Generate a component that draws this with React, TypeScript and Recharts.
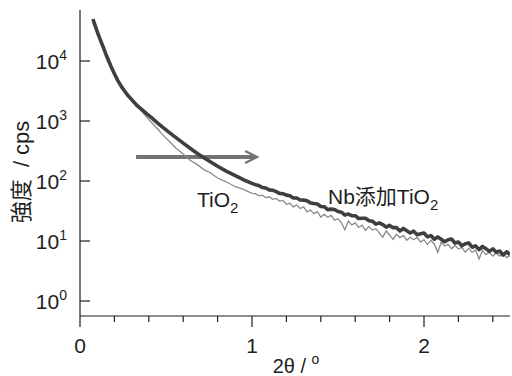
import React from 'react';
import { LineChart, Line, XAxis, YAxis, ReferenceLine, ReferenceDot } from 'recharts';

// 2θ (deg)
const twoTheta = [
  0.075, 0.09, 0.105, 0.12, 0.135, 0.15, 0.165, 0.18, 0.2, 0.22, 0.24, 0.26, 0.28, 0.3,
  0.33, 0.36, 0.39, 0.42, 0.45, 0.48, 0.52, 0.56, 0.6, 0.64, 0.68, 0.72, 0.76, 0.8,
  0.85, 0.9, 0.95, 1.0,
  1.02, 1.04, 1.06, 1.08, 1.1, 1.12, 1.14, 1.16, 1.18, 1.2, 1.22, 1.24, 1.26, 1.28,
  1.3, 1.32, 1.34, 1.36, 1.38, 1.4, 1.42, 1.44, 1.46, 1.48, 1.5, 1.52, 1.54, 1.56,
  1.58, 1.6, 1.62, 1.64, 1.66, 1.68, 1.7, 1.72, 1.74, 1.76, 1.78, 1.8, 1.82, 1.84,
  1.86, 1.88, 1.9, 1.92, 1.94, 1.96, 1.98, 2.0, 2.02, 2.04, 2.06, 2.08, 2.1, 2.12,
  2.14, 2.16, 2.18, 2.2, 2.22, 2.24, 2.26, 2.28, 2.3, 2.32, 2.34, 2.36, 2.38, 2.4,
  2.42, 2.44, 2.46, 2.48, 2.5,
];

// Nb添加TiO2 (cps)
const nbCps = [
  50100, 37600, 28200, 21800, 17000, 13100, 10300, 8170, 6120, 4710, 3780, 3140, 2630, 2280,
  1830, 1550, 1300, 1110, 933, 791, 641, 523, 427, 351, 290, 245, 208, 176,
  146, 124, 105, 91.5,
  86.9, 83.9, 78.0, 76.4, 71.1, 70.3, 66.7, 62.1, 61.4, 58.1, 56.9, 52.2, 52.0, 48.2,
  48.0, 47.0, 43.1, 42.1, 41.4, 37.6, 37.3, 33.3, 34.0, 33.6, 30.9, 30.2, 27.1, 28.1,
  26.4, 26.4, 23.7, 23.9, 23.9, 21.7, 21.4, 19.1, 20.1, 18.8, 17.0, 18.2, 16.7, 16.7,
  14.7, 16.2, 14.8, 13.6, 14.6, 12.7, 13.2, 13.6, 11.7, 12.3, 10.7, 11.7, 10.7, 9.73,
  10.5, 10.8, 9.23, 9.62, 8.34, 9.02, 9.29, 7.87, 8.3, 7.19, 8.13, 7.46, 6.71, 7.4,
  6.49, 6.82, 5.85, 6.61, 5.96,
];

// TiO2 (cps)
const tiCps = [
  42700, 33900, 26900, 21400, 16800, 12950, 10150, 8050, 6050, 4650, 3740, 3100, 2600, 2250,
  1760, 1435, 1140, 916, 741, 593, 454, 349, 283, 222, 189, 155, 136, 112,
  97, 81, 72.5, 62.4,
  61.5, 56.6, 58.2, 53.0, 54.5, 49.4, 51.3, 46.3, 47.5, 40.9, 42.5, 37.1, 39.9, 34.8,
  37.1, 30.5, 32.8, 28.6, 30.8, 25.1, 27.7, 24.8, 26.7, 22.3, 23.5, 20.1, 15.4, 21.5,
  18.5, 20.0, 16.8, 18.3, 15.0, 17.5, 15.2, 16.0, 13.7, 11.5, 14.7, 12.6, 10.6, 12.9,
  11.4, 12.4, 10.3, 11.5, 10.5, 11.5, 9.57, 10.5, 8.73, 10.3, 8.93, 6.47, 9.51, 8.24,
  8.77, 7.43, 8.47, 7.35, 7.83, 6.5, 7.6, 6.44, 7.08, 5.02, 6.95, 5.93, 6.53, 5.61,
  6.27, 5.6, 6.17, 5.27, 5.65,
];

const xTicks = [0, 0.2, 0.4, 0.6, 0.8, 1, 1.2, 1.4, 1.6, 1.8, 2, 2.2, 2.4];
const xLabels = [0, 1, 2];
const yTicks = [1, 10, 100, 1000, 10000];
const yExponents = ['0', '1', '2', '3', '4'];

const rows = twoTheta.map((x, i) => ({ x, nb: nbCps[i], ti: tiCps[i] }));

const FONT = '"Liberation Sans", Arial, "Noto Sans CJK JP", sans-serif';
const INK = '#1e1e1e';

function XTick(props: any) {
  const { x, y, payload } = props;
  const major = xLabels.includes(payload.value);
  return (
    <g>
      <line x1={x} x2={x} y1={y} y2={y + (major ? 11 : 6)} stroke={INK} strokeWidth={1.2} />
      {major && (
        <text x={x} y={y + 37} textAnchor="middle" fontSize={21} fill={INK} fontFamily={FONT}>
          {payload.value}
        </text>
      )}
    </g>
  );
}

function YTick(props: any) {
  const { x, y, payload } = props;
  const exp = yExponents[yTicks.indexOf(payload.value)];
  return (
    <g>
      <line x1={x} x2={x + 10} y1={y} y2={y} stroke={INK} strokeWidth={1.2} />
      <text x={x - 13} y={y + 8} textAnchor="end" fontSize={21} fill={INK} fontFamily={FONT}>
        10
        <tspan dy={-9} fontSize={14}>{exp}</tspan>
      </text>
    </g>
  );
}

function Arrow(props: any) {
  const { x1, y1, x2, y2 } = props;
  return (
    <g stroke="#737373" fill="none">
      <line x1={x1} y1={y1} x2={x2 - 1} y2={y2} strokeWidth={4} />
      <polyline points={`${x2 - 12},${y2 - 6} ${x2},${y2} ${x2 - 12},${y2 + 6}`} strokeWidth={2.2} />
    </g>
  );
}

function SampleLabel({ cx, cy, name }: any) {
  return (
    <text x={cx} y={cy} fontSize={21} fill={INK} fontFamily={FONT}>
      {name}
      <tspan dy={6} fontSize={15}>2</tspan>
    </text>
  );
}

export default function App() {
  return (
    <div style={{ position: 'absolute', left: 0, top: 0, background: '#fff' }}>
      <LineChart width={512} height={376} data={rows} margin={{ top: 10, right: 2, bottom: 0, left: 0 }}>
        <XAxis
          dataKey="x"
          type="number"
          domain={[0, 2.5]}
          ticks={xTicks}
          interval={0}
          allowDataOverflow
          tickLine={false}
          tickSize={0}
          tickMargin={0}
          tick={<XTick />}
          height={60}
          axisLine={{ stroke: INK, strokeWidth: 1.2 }}
          label={{
            content: () => (
              <text x={296} y={373} textAnchor="middle" fontSize={20} fill={INK} fontFamily={FONT}>
                2θ / <tspan dy={-9} fontSize={14}>o</tspan>
              </text>
            ),
          }}
        />
        <YAxis
          type="number"
          scale="log"
          domain={[0.5623, 70795]}
          ticks={yTicks}
          interval={0}
          allowDataOverflow
          tickLine={false}
          tickSize={0}
          tickMargin={0}
          tick={<YTick />}
          width={80}
          axisLine={{ stroke: INK, strokeWidth: 1.2 }}
          label={{
            content: () => (
              <text
                x={21}
                y={172}
                transform="rotate(-90 21 172)"
                textAnchor="middle"
                dominantBaseline="central"
                fontSize={22}
                fill={INK}
                fontFamily={FONT}
                style={{ whiteSpace: 'pre' }}
              >
                {'強度  / cps'}
              </text>
            ),
          }}
        />
        <ReferenceLine
          segment={[{ x: 0.326, y: 251 }, { x: 1.03, y: 251 }]}
          shape={<Arrow />}
        />
        <Line
          dataKey="ti"
          type="linear"
          stroke="#8a8a8a"
          strokeWidth={1.3}
          dot={false}
          isAnimationActive={false}
        />
        <Line
          dataKey="nb"
          type="linear"
          stroke="#3f3f3f"
          strokeWidth={3.6}
          strokeLinejoin="round"
          dot={false}
          isAnimationActive={false}
        />
        <ReferenceDot x={0.68} y={36.9} r={0} shape={<SampleLabel name="TiO" />} />
        <ReferenceDot x={1.442} y={41.4} r={0} shape={<SampleLabel name="Nb添加TiO" />} />
      </LineChart>
    </div>
  );
}
